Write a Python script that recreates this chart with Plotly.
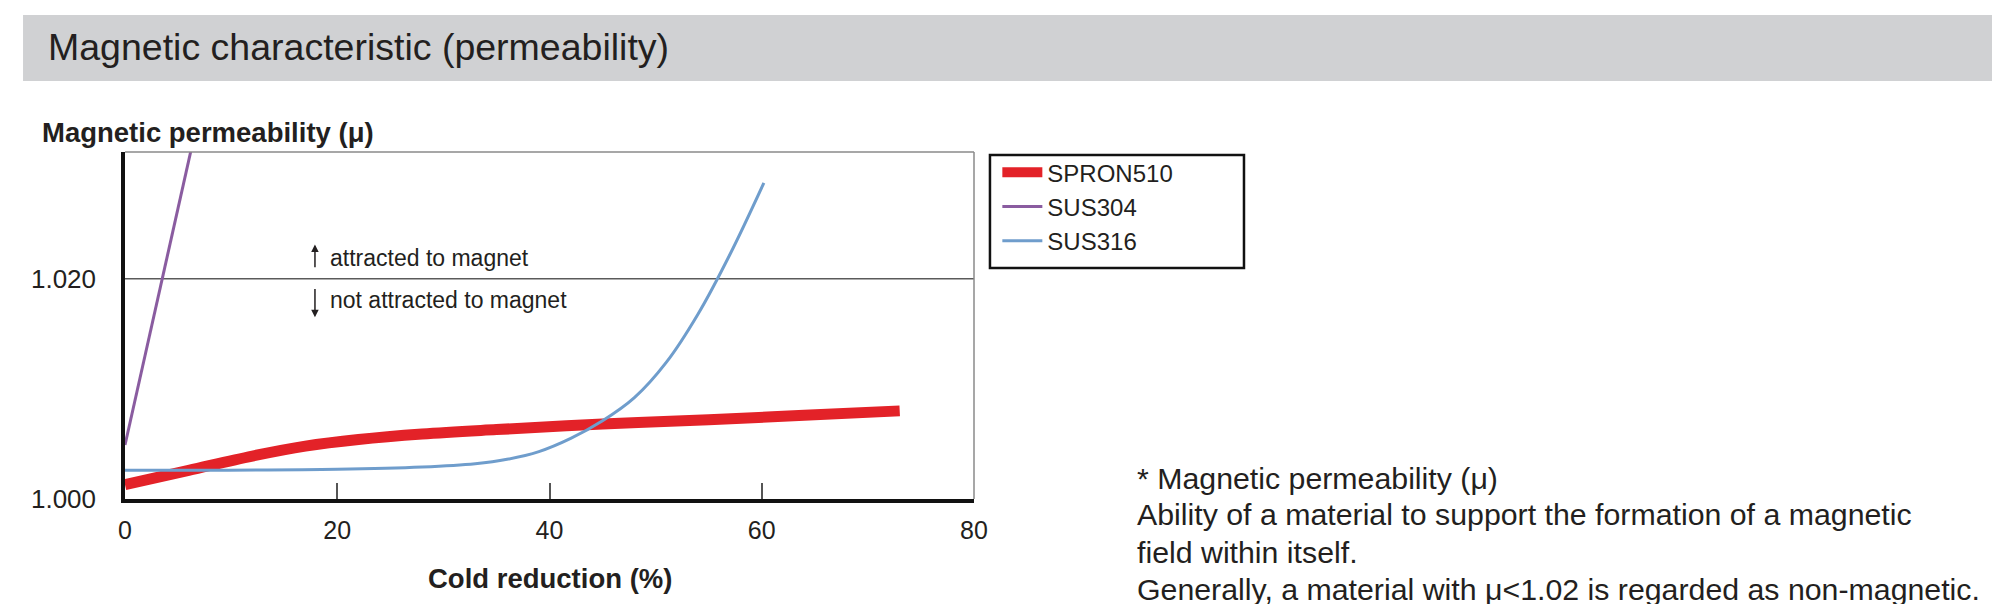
import plotly.graph_objects as go

# values
spron510_x = [0, 6, 12, 17, 22, 28, 35, 45, 55, 64, 73]
spron510_y = [1.0013, 1.0026, 1.0039, 1.0048, 1.0054, 1.0059, 1.0063, 1.0068, 1.0072, 1.0076, 1.0080]

sus304_x = [0, 6.3]
sus304_y = [1.0049, 1.0320]

sus316_x = [0, 20, 28, 33, 36, 39, 42, 45, 48, 51, 54, 57, 60.2]
sus316_y = [1.0026, 1.0027, 1.0029, 1.0032, 1.0036, 1.0043, 1.0055, 1.0071, 1.0092, 1.0124, 1.0168, 1.0222, 1.0287]

x_ticks = [0, 20, 40, 60, 80]
y_ticks = [1.000, 1.020]
y_tick_labels = ['1.000', '1.020']
threshold = 1.020

note_lines = [
    '* Magnetic permeability (μ)',
    'Ability of a material to support the formation of a magnetic',
    'field within itself.',
    'Generally, a material with μ<1.02 is regarded as non-magnetic.',
]

FONT = 'Liberation Sans, Arial, sans-serif'
TXT = '#231f20'

fig = go.Figure()

fig.add_trace(go.Scatter(x=spron510_x, y=spron510_y, mode='lines', name='SPRON510',
                         line=dict(color='#e32228', width=11, shape='spline', smoothing=1.0)))
fig.add_trace(go.Scatter(x=sus304_x, y=sus304_y, mode='lines', name='SUS304',
                         line=dict(color='#8a5ca0', width=3)))
fig.add_trace(go.Scatter(x=sus316_x, y=sus316_y, mode='lines', name='SUS316',
                         line=dict(color='#6f9dcc', width=3, shape='spline', smoothing=1.0)))

# threshold line at 1.020
fig.add_shape(type='line', xref='paper', x0=0, x1=1, yref='y', y0=threshold, y1=threshold,
              line=dict(color='#5a5a5a', width=1.5), layer='below')
# top / right frame
fig.add_shape(type='line', xref='paper', yref='paper', x0=0, x1=1, y0=1, y1=1,
              line=dict(color='#8a8a8a', width=1.5))
fig.add_shape(type='line', xref='paper', yref='paper', x0=1, x1=1, y0=0, y1=1,
              line=dict(color='#8a8a8a', width=1.5))

# header bar
fig.add_shape(type='rect', xref='paper', yref='paper', x0=-0.1201, x1=2.2026, y0=1.2046, y1=1.3948,
              fillcolor='#d0d1d3', line=dict(width=0), layer='below')
fig.add_annotation(text='Magnetic characteristic (permeability)', xref='paper', yref='paper',
                   x=-0.093, y=1.303, xanchor='left', yanchor='middle', showarrow=False,
                   font=dict(family=FONT, size=37.5, color=TXT))

# axis titles
fig.add_annotation(text='<b>Magnetic permeability (μ)</b>', xref='paper', yref='paper',
                   x=-0.1001, y=1.0576, xanchor='left', yanchor='middle', showarrow=False,
                   font=dict(family=FONT, size=27.5, color=TXT))
fig.add_annotation(text='<b>Cold reduction (%)</b>', xref='paper', yref='paper',
                   x=0.5, y=-0.2285, xanchor='center', yanchor='middle', showarrow=False,
                   font=dict(family=FONT, size=27.5, color=TXT))

# attracted / not attracted notes
fig.add_annotation(text='attracted to magnet', x=19.15, y=1.0219, xanchor='left', yanchor='middle',
                   showarrow=False, font=dict(family=FONT, size=23, color=TXT))
fig.add_annotation(text='not attracted to magnet', x=19.15, y=1.0181, xanchor='left', yanchor='middle',
                   showarrow=False, font=dict(family=FONT, size=23, color=TXT))
fig.add_annotation(x=17.9, y=1.0231, ax=17.9, ay=1.0209, axref='x', ayref='y', text='',
                   showarrow=True, arrowhead=2, arrowsize=1, arrowwidth=1.5, arrowcolor=TXT)
fig.add_annotation(x=17.9, y=1.0165, ax=17.9, ay=1.0192, axref='x', ayref='y', text='',
                   showarrow=True, arrowhead=2, arrowsize=1, arrowwidth=1.5, arrowcolor=TXT)

# legend frame
fig.add_shape(type='rect', xref='paper', yref='paper', x0=1.0188, x1=1.3180, y0=0.6657, y1=0.9914,
              line=dict(color='#111111', width=2.5), fillcolor='rgba(0,0,0,0)')

# footnote
note_y = [470.7, 506.7, 544, 581.7]
for line, py in zip(note_lines, note_y):
    fig.add_annotation(text=line, xref='paper', yref='paper', x=(1127 - 117) / 849, y=(491 - py) / 347,
                       xanchor='left', yanchor='middle', showarrow=False,
                       font=dict(family=FONT, size=30.3, color=TXT))

fig.update_layout(
    width=2000, height=604,
    margin=dict(l=117, r=1034, t=144, b=113),
    paper_bgcolor='white', plot_bgcolor='white',
    font=dict(family=FONT, color=TXT),
    showlegend=True,
    legend=dict(x=1.0275, y=1.005, xanchor='left', yanchor='top', borderwidth=0,
                bgcolor='rgba(0,0,0,0)', font=dict(family=FONT, size=24, color=TXT),
                itemwidth=40, tracegroupgap=0),
    xaxis=dict(range=[0, 80], tickvals=x_ticks, showgrid=False, zeroline=False,
               showline=True, linecolor='#111111', linewidth=3.5,
               ticks='inside', ticklen=16, tickwidth=1.5, tickcolor='#555555',
               ticklabelstandoff=6, tickfont=dict(family=FONT, size=25, color=TXT)),
    yaxis=dict(range=[1.000, 1.0315], tickvals=y_ticks, ticktext=y_tick_labels, showgrid=False,
               zeroline=False, showline=True, linecolor='#111111', linewidth=3.5, ticks='',
               ticklabelstandoff=20, tickfont=dict(family=FONT, size=26, color=TXT)),
)

fig.write_html("out.html")
